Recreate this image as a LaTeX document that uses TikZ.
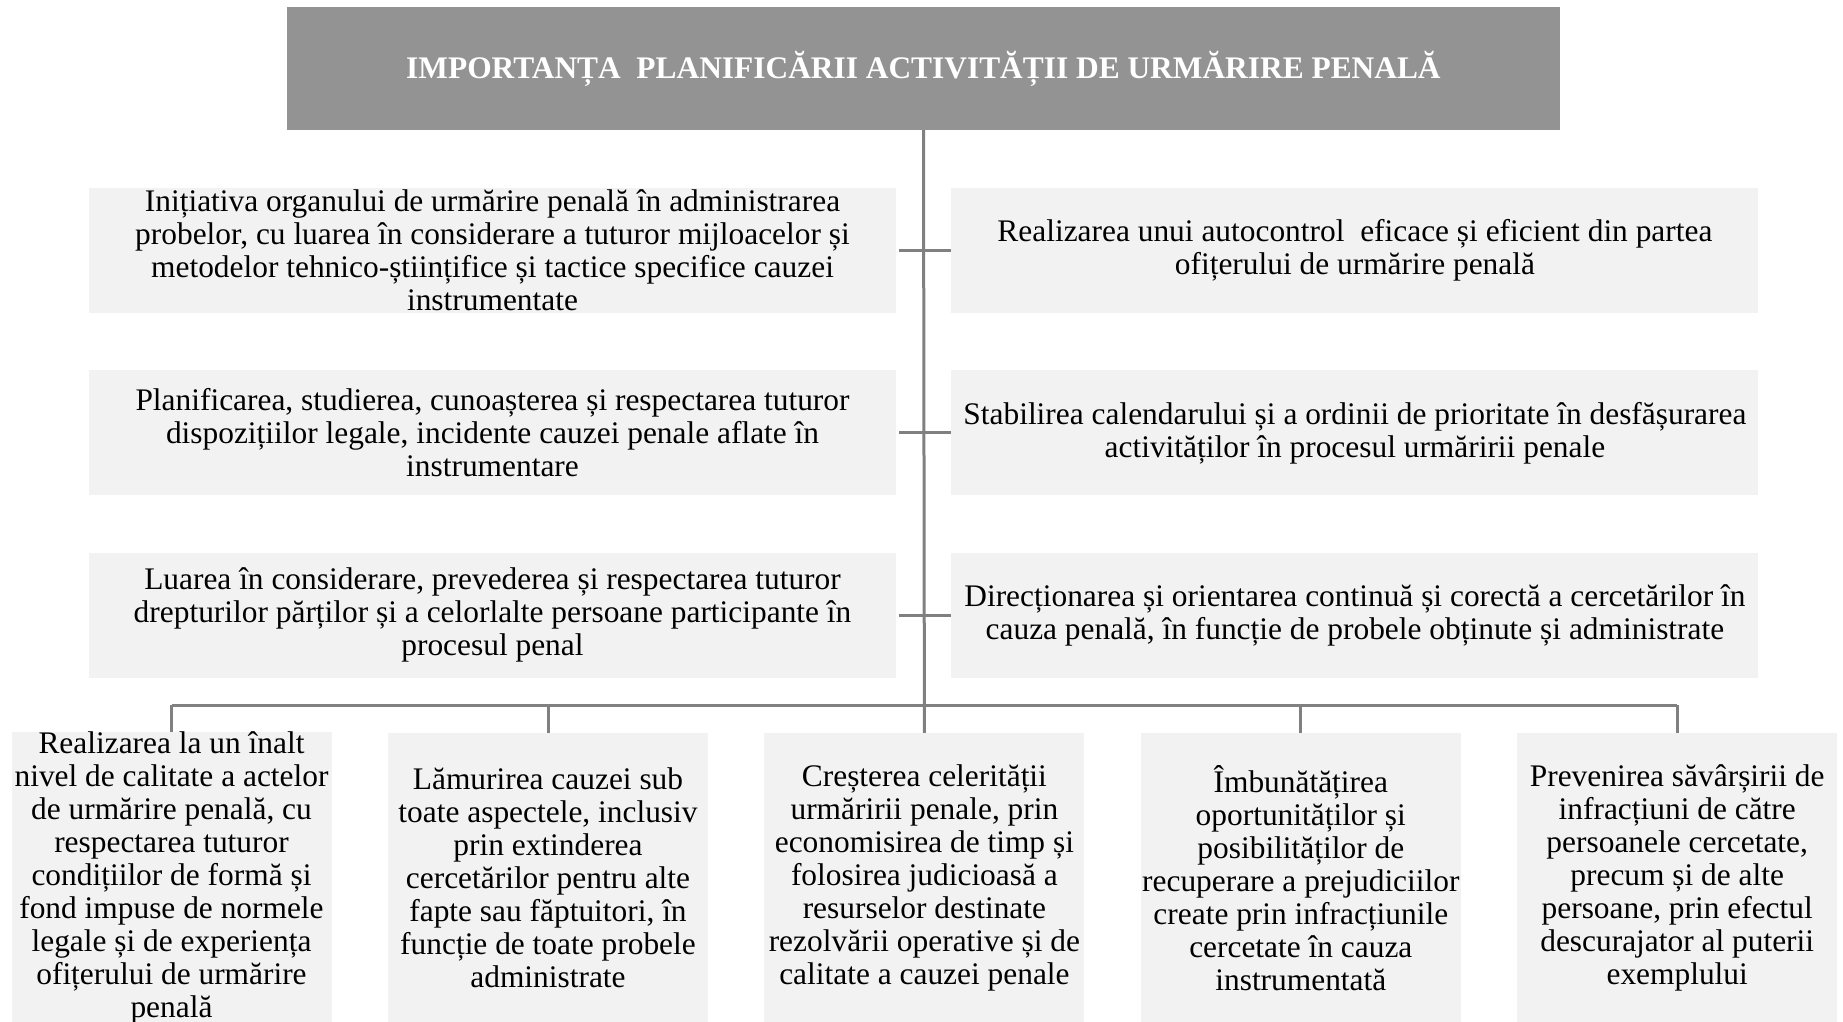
\documentclass[tikz,border=0pt]{standalone}
\usepackage{fontspec}
\setmainfont{Liberation Serif}
\usepackage{tikz}
\usetikzlibrary{positioning}
\usepackage{xcolor}
\definecolor{headgray}{RGB}{147,147,147}
\definecolor{paper}{RGB}{242,242,242}
\definecolor{wiregray}{RGB}{128,128,128}
\newcommand{\txt}{\fontsize{31.4}{33}\selectfont}
\tikzset{
  headbox/.style={fill=headgray,text=white,font=\txt\bfseries,inner sep=0pt,
    minimum width=1273pt,minimum height=123pt},
  rowbox/.style={fill=paper,font=\txt,align=center,inner sep=0pt,
    minimum width=807pt,minimum height=125pt},
  leafbox/.style={fill=paper,font=\txt,align=center,inner sep=0pt,
    minimum width=320pt,minimum height=290pt},
  wire/.style={draw=wiregray,line width=3pt},
}

\begin{document}
\begin{tikzpicture}[x=1pt,y=-1pt]
  \useasboundingbox (0,0) rectangle (1843,1021);
  \node[headbox] (head) at (923.5,68.5)
    {IMPORTANȚA\ \ PLANIFICĂRII ACTIVITĂȚII DE URMĂRIRE PENALĂ};
  \node[rowbox] (l1) at (492.5,250.5)
    {Inițiativa organului de urmărire penală în administrarea\\
     probelor, cu luarea în considerare a tuturor mijloacelor și\\
     metodelor tehnico-științifice și tactice specifice cauzei\\
     instrumentate};
  \node[rowbox,below=57pt of l1] (l2)
    {Planificarea, studierea, cunoașterea și respectarea tuturor\\
     dispozițiilor legale, incidente cauzei penale aflate în\\
     instrumentare};
  \node[rowbox,below=57pt of l2] (l3)
    {Luarea în considerare, prevederea și respectarea tuturor\\
     drepturilor părților și a celorlalte persoane participante în\\
     procesul penal};
  \node[rowbox,right=55pt of l1] (r1)
    {Realizarea unui autocontrol\ \ eficace și eficient din partea\\
     ofițerului de urmărire penală};
  \node[rowbox,right=55pt of l2] (r2)
    {Stabilirea calendarului și a ordinii de prioritate în desfășurarea\\
     activităților în procesul urmăririi penale};
  \node[rowbox,right=55pt of l3] (r3)
    {Direcționarea și orientarea continuă și corectă a cercetărilor în\\
     cauza penală, în funcție de probele obținute și administrate};
  \node[leafbox] (b1) at (171.5,878)
    {Realizarea la un înalt\\ nivel de calitate a actelor\\ de urmărire penală, cu\\
     respectarea tuturor\\ condițiilor de formă și\\ fond impuse de normele\\
     legale și de experiența\\ ofițerului de urmărire\\ penală};
  \node[leafbox] (b2) at (548,878)
    {Lămurirea cauzei sub\\ toate aspectele, inclusiv\\ prin extinderea\\
     cercetărilor pentru alte\\ fapte sau făptuitori, în\\ funcție de toate probele\\
     administrate};
  \node[leafbox,right=56pt of b2] (b3)
    {Creșterea celerității\\ urmăririi penale, prin\\ economisirea de timp și\\
     folosirea judicioasă a\\ resurselor destinate\\ rezolvării operative și de\\
     calitate a cauzei penale};
  \node[leafbox,right=56pt of b3] (b4)
    {Îmbunătățirea\\ oportunităților și\\ posibilităților de\\
     recuperare a prejudiciilor\\ create prin infracțiunile\\ cercetate în cauza\\
     instrumentată};
  \node[leafbox,right=56pt of b4] (b5)
    {Prevenirea săvârșirii de\\ infracțiuni de către\\ persoanele cercetate,\\
     precum și de alte\\ persoane, prin efectul\\ descurajator al puterii\\
     exemplului};
  \coordinate (bus) at (924,705);
  \draw[wire] (head.south) -- (b3.north);
  \foreach \i in {1,2,3}
    \draw[wire] ([xshift=3pt]l\i.east) -- (r\i.west);
  \draw[wire] (b1.north |- bus) -- (b5.north |- bus);
  \foreach \b in {b1,b2,b4,b5}
    \draw[wire] (\b.north |- bus) -- (\b.north);
\end{tikzpicture}
\end{document}
